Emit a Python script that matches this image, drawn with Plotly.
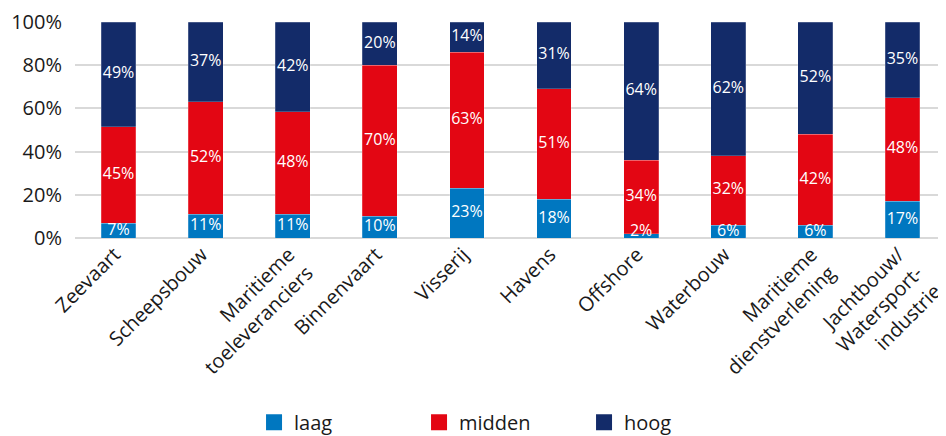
import plotly.graph_objects as go

categories = ["Zeevaart", "Scheepsbouw", "Maritieme<br>toeleveranciers", "Binnenvaart",
              "Visserij", "Havens", "Offshore", "Waterbouw",
              "Maritieme<br>dienstverlening", "Jachtbouw/<br>Watersport-<br>industrie"]
laag = [7, 11, 11, 10, 23, 18, 2, 6, 6, 17]
midden = [45, 52, 48, 70, 63, 51, 34, 32, 42, 48]
hoog = [49, 37, 42, 20, 14, 31, 64, 62, 52, 35]
series = [("laag", laag, "#0077c0"), ("midden", midden, "#e30613"), ("hoog", hoog, "#132b69")]
y_ticks = [0, 20, 40, 60, 80, 100]

FONT = "Open Sans"
fig = go.Figure()
totals = [a + b + c for a, b, c in zip(laag, midden, hoog)]
base = [0.0] * len(categories)
for name, vals, color in series:
    fig.add_trace(go.Bar(
        x=categories, y=vals, name=name, showlegend=False, hoverinfo="skip",
        marker=dict(color=color, line=dict(color="rgba(255,255,255,0.35)", width=0.6)),
    ))
# segment labels, positioned from the data (normalised to 100%)
for name, vals, color in series:
    centers = []
    for i, v in enumerate(vals):
        c = (base[i] + v / 2) / totals[i] * 100
        centers.append(max(c, 2.6))
        base[i] += v
    fig.add_trace(go.Scatter(
        x=categories, y=centers, mode="text", text=[f"{v}%" for v in vals],
        textfont=dict(color="white", size=16, family=FONT), showlegend=False,
        cliponaxis=False, hoverinfo="skip",
    ))
for name, vals, color in series:
    fig.add_trace(go.Scatter(
        x=[None], y=[None], mode="markers", name=name,
        marker=dict(symbol="square", size=22, color=color),
    ))

fig.update_layout(
    barmode="stack", barnorm="percent", bargap=0.6,
    width=938, height=428,
    margin=dict(l=67, r=0, t=14, b=198, autoexpand=False),
    paper_bgcolor="white", plot_bgcolor="white",
    font=dict(family=FONT, color="#1a1a1a", size=20),
    legend=dict(orientation="h", xref="container", yref="container",
                x=0.2623, xanchor="left", y=0.032, yanchor="middle", traceorder="normal",
                entrywidth=120, entrywidthmode="pixels", itemsizing="trace",
                font=dict(size=20, family=FONT, color="#1a1a1a")),
    xaxis=dict(tickangle=-45, tickfont=dict(size=20, family=FONT), automargin=False,
               showline=False, ticks="", ticklabelshift=-4),
    yaxis=dict(range=[0, 100], tickvals=y_ticks, ticktext=[f"{t}%" for t in y_ticks],
               tickfont=dict(size=20, family=FONT), showgrid=True, gridcolor="#d9d9d9",
               gridwidth=1.5, zeroline=True, zerolinecolor="#d9d9d9", zerolinewidth=1.5,
               automargin=False, ticklabelstandoff=12),
)
fig.write_html("out.html")
